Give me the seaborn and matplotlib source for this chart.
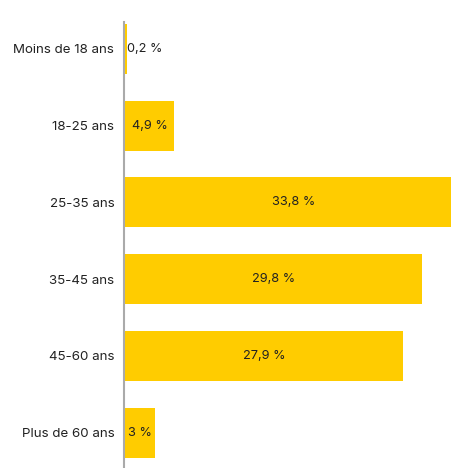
import matplotlib
matplotlib.use("Agg")
import matplotlib.pyplot as plt
import seaborn as sns
import pandas as pd

categories = ["Moins de 18 ans", "18-25 ans", "25-35 ans", "35-45 ans", "45-60 ans", "Plus de 60 ans"]
values = [0.2, 4.9, 33.8, 29.8, 27.9, 3.0]
labels = ["0,2 %", "4,9 %", "33,8 %", "29,8 %", "27,9 %", "3 %"]

df = pd.DataFrame({"age": categories, "share": values})

sns.set_theme(style="white")
plt.rcParams["font.family"] = ["Inter", "DejaVu Sans"]

fig = plt.figure(figsize=(4.52, 4.68), dpi=100)
ax = fig.add_axes([124 / 452, 0.0, 1 - 124 / 452, 1 - 22 / 468])

sns.barplot(data=df, x="share", y="age", orient="h", color="#FFCC00",
            saturation=1, width=0.65, linewidth=0, ax=ax, zorder=3)

ax.set_xlim(-0.1, 32.8)
ax.set_ylim(5.46, -0.35)

for i, (v, lab) in enumerate(zip(values, labels)):
    if v < 2:
        ax.text(v + 0.05, i, lab, ha="left", va="center", fontsize=9.2, color="#222222", zorder=4)
    else:
        ax.text(v / 2, i, lab, ha="center", va="center", fontsize=9.2, color="#222222", zorder=4)

ax.set_xlabel("")
ax.set_ylabel("")
ax.set_xticks([])
ax.tick_params(axis="y", length=0, pad=7, labelsize=9.6, labelcolor="#222222")
for s in ["top", "right", "bottom"]:
    ax.spines[s].set_visible(False)
ax.spines["left"].set_color("#aaaaaa")
ax.spines["left"].set_linewidth(1.5)
ax.spines["left"].set_zorder(1)

fig.savefig("out.png", dpi=100)
